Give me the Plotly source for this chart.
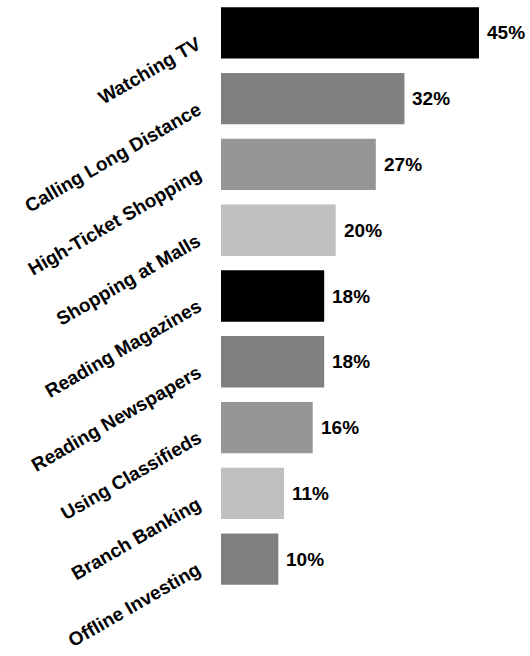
import plotly.graph_objects as go

# Share of respondents for each activity
activities = [
    "Watching TV",
    "Calling Long Distance",
    "High-Ticket Shopping",
    "Shopping at Malls",
    "Reading Magazines",
    "Reading Newspapers",
    "Using Classifieds",
    "Branch Banking",
    "Offline Investing",
]
percentages = [45, 32, 27, 20, 18, 18, 16, 11, 10]
bar_colors = [
    "#000000", "#808080", "#969696", "#C0C0C0",
    "#000000", "#808080", "#969696", "#C0C0C0",
    "#808080",
]

FONT = "Liberation Sans, Arial, sans-serif"

fig = go.Figure(
    go.Bar(
        x=percentages,
        y=activities,
        orientation="h",
        marker=dict(color=bar_colors, line=dict(width=0)),
        width=0.78,
        hoverinfo="skip",
    )
)

# value labels just past the end of each bar
for name, pct in zip(activities, percentages):
    fig.add_annotation(
        x=pct, y=name, xref="x", yref="y",
        text=f"<b>{pct}%</b>",
        showarrow=False,
        xanchor="left", yanchor="middle",
        xshift=6,
        font=dict(family=FONT, size=19, color="#000000"),
    )

# slanted category labels to the left of the bars
for name in activities:
    fig.add_annotation(
        x=0, y=name, xref="paper", yref="y",
        text=f"<b>{name}</b>",
        showarrow=False,
        textangle=-30,
        xanchor="right", yanchor="top",
        xshift=-15, yshift=2,
        borderpad=0,
        font=dict(family=FONT, size=19, color="#000000"),
    )

fig.update_layout(
    width=530,
    height=656,
    margin=dict(l=221, r=0, t=0, b=64),
    paper_bgcolor="white",
    plot_bgcolor="white",
    showlegend=False,
    font=dict(family=FONT, color="#000000"),
)
fig.update_xaxes(
    range=[0, 53.9],
    visible=False,
    showgrid=False,
    zeroline=False,
)
fig.update_yaxes(
    categoryorder="array",
    categoryarray=activities,
    range=[8.5, -0.5],
    showgrid=False,
    zeroline=False,
    showline=False,
    showticklabels=False,
    ticks="",
)

fig.write_html("out.html")
